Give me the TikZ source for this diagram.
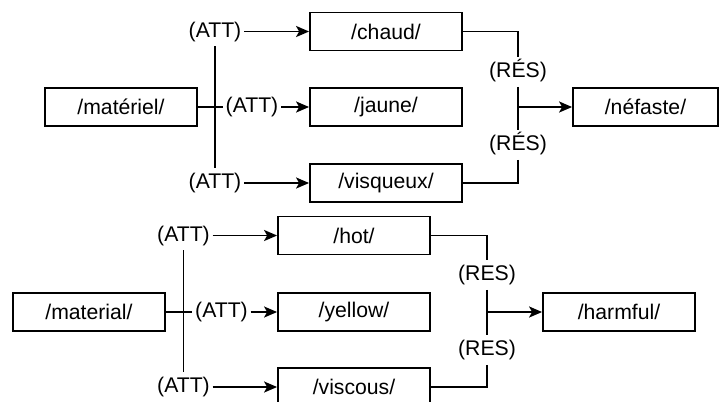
\documentclass[tikz,border=0pt]{standalone}
\usepackage{fontspec}
\setmainfont{Liberation Sans}
\usetikzlibrary{arrows.meta}

\begin{document}
\begin{tikzpicture}[x=0.5pt,y=-0.5pt,line width=0.9pt,
  every node/.style={font=\fontsize{10.6}{12}\selectfont},
  box/.style={draw,minimum width=76pt,minimum height=19pt,inner sep=0pt},
  lab/.style={inner xsep=1pt,inner ysep=2pt,text height=7.7pt,text depth=2.2pt},
  >={Stealth[length=6.5pt,width=5.5pt,inset=1.5pt]}]
\clip (0,0) rectangle (719,402) ;
% French
\node[box] (f0) at (121,107) {/matériel/} ;
\node[box] (f1) at (386,31.5) {/chaud/} ;
\node[box] (f2) at (386,107) {/jaune/} ;
\node[box] (f3) at (386,183) {/visqueux/} ;
\node[box,minimum width=72.5pt] (f4) at (645.5,107) {/néfaste/} ;
\node[lab] (fa1) at (215,31.5) {(ATT)} ;
\node[lab] (fa2) at (252,107) {(ATT)} ;
\node[lab] (fa3) at (215,183) {(ATT)} ;
\node[lab] (fr1) at (518,72) {(RÉS)} ;
\node[lab] (fr2) at (518,145) {(RÉS)} ;
\draw (fa1.south) -- (fa3.north) ;
\draw (f0.east) -- (fa2.west) ;
\draw[->] (fa1.east) -- (f1.west) ;
\draw[->] (fa2.east) -- (f2.west) ;
\draw[->] (fa3.east) -- (f3.west) ;
\draw (f1.east) -| (fr1.north) ;
\draw (fr1.south) -- (fr2.north) ;
\draw (fr2.south) |- (f3.east) ;
\draw[->] (fr1.south |- f4.west) -- (f4.west) ;
% English
\node[box] (e0) at (89,312) {/material/} ;
\node[box] (e1) at (354,235.5) {/hot/} ;
\node[box] (e2) at (354,312) {/yellow/} ;
\node[box] (e3) at (354,387) {/viscous/} ;
\node[box] (e4) at (619,312) {/harmful/} ;
\node[lab] (ea1) at (183.5,235.5) {(ATT)} ;
\node[lab] (ea2) at (221.5,312) {(ATT)} ;
\node[lab] (ea3) at (183.5,387) {(ATT)} ;
\node[lab] (er1) at (487,275) {(RES)} ;
\node[lab] (er2) at (487,350) {(RES)} ;
\draw (ea1.south) -- (ea3.north) ;
\draw (e0.east) -- (ea2.west) ;
\draw[->] (ea1.east) -- (e1.west) ;
\draw[->] (ea2.east) -- (e2.west) ;
\draw[->] (ea3.east) -- (e3.west) ;
\draw (e1.east) -| (er1.north) ;
\draw (er1.south) -- (er2.north) ;
\draw (er2.south) |- (e3.east) ;
\draw[->] (er1.south |- e4.west) -- (e4.west) ;
\end{tikzpicture}
\end{document}
